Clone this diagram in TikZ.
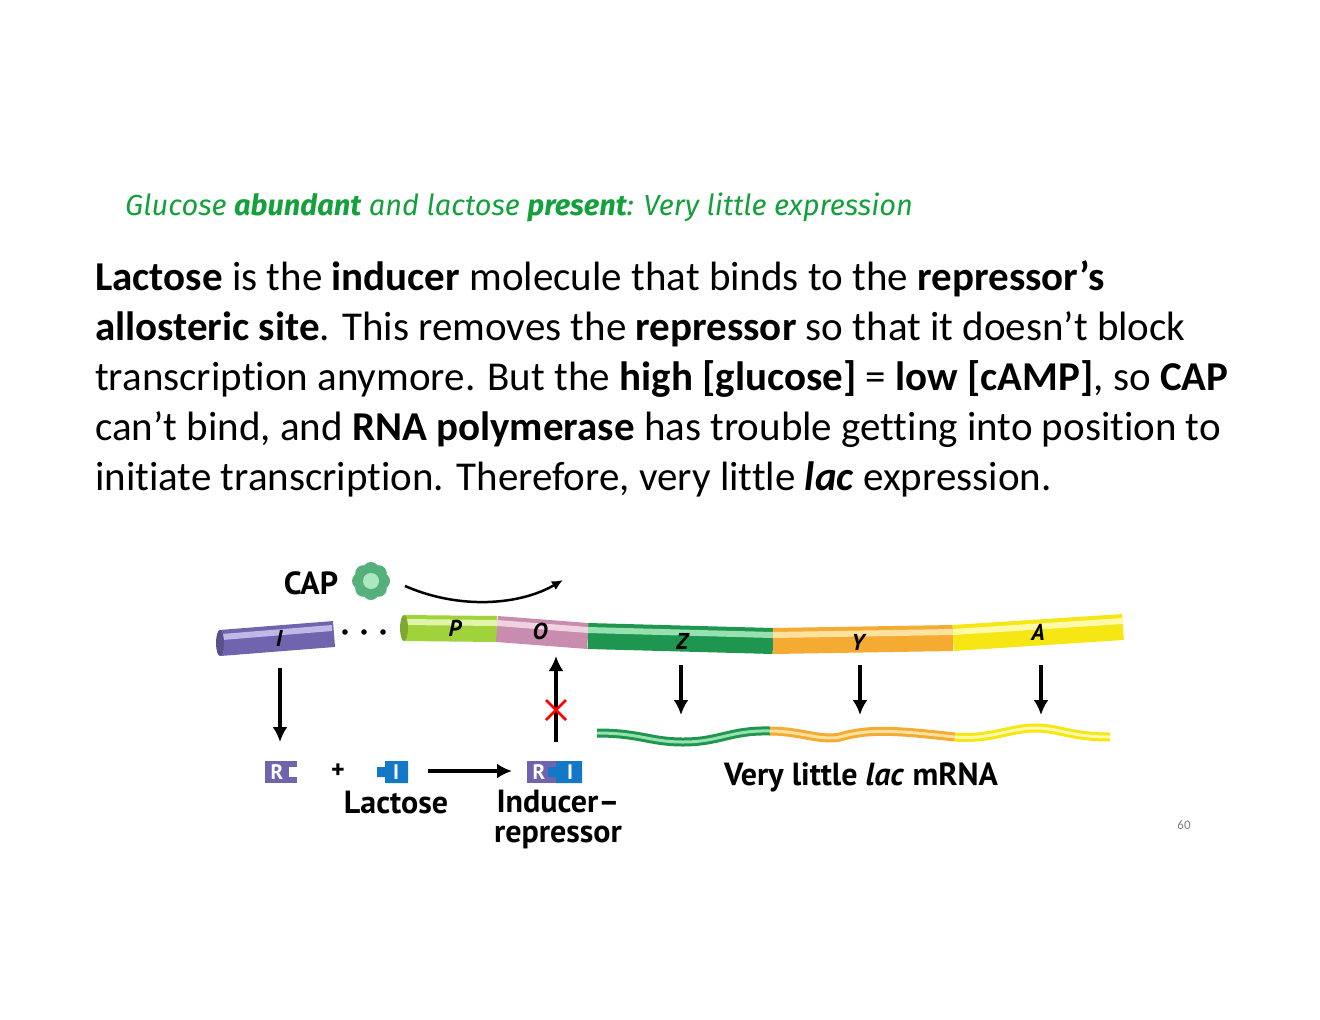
\documentclass[tikz,border=0pt]{standalone}
\usepackage{fontspec}
\usetikzlibrary{arrows.meta}
\setmainfont[Ligatures=NoCommon]{Carlito}
\newfontfamily\hand{Fira Sans}
\newfontfamily\lab{PT Sans}
\definecolor{ttlgreen}{RGB}{20,160,60}
\definecolor{cpurple}{RGB}{112,100,175}
\definecolor{cpurpleL}{RGB}{190,185,230}
\definecolor{clime}{RGB}{160,210,60}
\definecolor{climeL}{RGB}{225,245,170}
\definecolor{cpink}{RGB}{200,140,175}
\definecolor{cpinkL}{RGB}{240,210,225}
\definecolor{cgreen}{RGB}{30,150,80}
\definecolor{cgreenL}{RGB}{150,225,175}
\definecolor{corange}{RGB}{245,170,50}
\definecolor{corangeL}{RGB}{255,225,160}
\definecolor{cyellow}{RGB}{245,230,20}
\definecolor{cyellowL}{RGB}{255,250,170}
\definecolor{cblue}{RGB}{20,120,200}
\begin{document}
\begin{tikzpicture}[x=1pt,y=-1pt,
  body/.style={anchor=base west,inner sep=0,font=\fontsize{41}{46}\selectfont},
  lbl/.style={font=\lab\bfseries\fontsize{32}{34}\selectfont,inner sep=0},
  glbl/.style={font=\lab\bfseries\itshape\fontsize{23}{24}\selectfont,inner sep=0},
  wl/.style={font=\lab\bfseries\fontsize{21}{21}\selectfont,text=white,inner sep=0},
  arr/.style={line width=3.5pt,-{Latex[length=15pt,width=15pt]}},
  tube/.style={line width=26pt},
  hl/.style={line width=6pt}]
\useasboundingbox (0,0) rectangle (1320,1020);
\node[anchor=base west,inner sep=0,text=ttlgreen,font=\hand\itshape\fontsize{29}{30}\selectfont] (title) at (125,215) {Glucose \textbf{abundant} and lactose \textbf{present}: Very little expression};
\node[body] (l1) at (95,290) {\textbf{Lactose} is the \textbf{inducer} molecule that binds to the \textbf{repressor’s}};
\node[body] (l2) at (95,340) {\textbf{allosteric site}. This removes the \textbf{repressor} so that it doesn’t block};
\node[body] (l3) at (95,390) {transcription anymore. But the \textbf{high [glucose]} = \textbf{low [cAMP]}, so \textbf{CAP}};
\node[body] (l4) at (95,440) {can’t bind, and \textbf{RNA polymerase} has trouble getting into position to};
\node[body] (l5) at (95,490) {initiate transcription. Therefore, very little \textbf{\textit{lac}} expression.};
% DNA
\coordinate (i1) at (220,643); \coordinate (i2) at (334,634);
\draw[tube,cpurple] (i1)--(i2);
\draw[hl,cpurpleL] (222,637)--(332,628);
\fill[cpurple!80!black] (i1) ellipse (4 and 13);
\foreach \x in {345,364,383} \fill (\x,632) circle (2.8);
\coordinate (p0) at (404,628); \coordinate (p1) at (497,629); \coordinate (o1) at (588,636);
\coordinate (z1) at (773,641); \coordinate (y1) at (953,638); \coordinate (a1) at (1123,627);
\draw[tube,clime] (p0)--(p1); \draw[hl,climeL] (404,622)--(497,623);
\draw[tube,cpink] (p1)--(o1); \draw[hl,cpinkL] (497,623)--(588,630);
\draw[tube,cgreen] (o1)--(z1); \draw[hl,cgreenL] (588,630)--(773,635);
\draw[tube,corange] (z1)--(y1); \draw[hl,corangeL] (773,635)--(953,632);
\draw[tube,cyellow] (y1)--(a1); \draw[hl,cyellowL] (953,632)--(1123,621);
\fill[clime!80!black] (p0) ellipse (4 and 13);
\node[glbl] (gI) at (279,638) {I};
\node[glbl] (gP) at (455,628) {P};
\node[glbl] (gO) at (540,631) {O};
\node[glbl] (gZ) at (682,641) {Z};
\node[glbl] (gY) at (858,642) {Y};
\node[glbl] (gA) at (1038,632) {A};
% CAP
\node[lbl] (cap) at (311,583) {CAP};
\foreach \a in {0,45,...,315} \fill[cgreen!75] (371,581) ++(\a:11) circle (8);
\fill[cgreenL!80!white] (371,581) circle (8);
\draw[line width=2.5pt,-{Latex[length=11pt,width=10pt]}] (405,586) .. controls (460,610) and (520,605) .. (563,580);
% arrows
\coordinate (ia) at (280,668); \coordinate (ib) at (280,742);
\draw[arr] (ia)--(ib);
\coordinate (ua) at (556,742); \coordinate (ub) at (556,656);
\draw[arr] (ua)--(ub);
\draw[red,line width=2.5pt] (546,700)--(566,720) (546,720)--(566,700);
\foreach \x/\n in {681/z,860/y,1041/a} {\coordinate (\n s) at (\x,665); \coordinate (\n e) at (\x,715); \draw[arr] (\n s)--(\n e);}
% mRNA
\draw[line width=9pt,cgreen] (597,733) .. controls (640,733) and (650,742) .. (683,742) .. controls (720,742) and (730,730) .. (770,731);
\draw[line width=3pt,cgreenL] (597,733) .. controls (640,733) and (650,742) .. (683,742) .. controls (720,742) and (730,730) .. (770,731);
\draw[line width=9pt,corange] (770,731) .. controls (800,731) and (820,741) .. (840,737) .. controls (870,728) and (900,731) .. (955,737);
\draw[line width=3pt,corangeL] (770,731) .. controls (800,731) and (820,741) .. (840,737) .. controls (870,728) and (900,731) .. (955,737);
\draw[line width=9pt,cyellow] (955,737) .. controls (990,740) and (1010,728) .. (1035,728) .. controls (1060,728) and (1070,737) .. (1110,737);
\draw[line width=3pt,cyellowL] (955,737) .. controls (990,740) and (1010,728) .. (1035,728) .. controls (1060,728) and (1070,737) .. (1110,737);
% R, lactose, complex
\fill[cpurple] (265,761) rectangle (297,783);
\fill[white] (289,767) rectangle (297,777);
\node[wl] (R1) at (277,772) {R};
\node[lbl,font=\lab\bfseries\fontsize{26}{26}\selectfont] (plus) at (338,771) {+};
\fill[cblue] (385,761) rectangle (408,783) (377,767) rectangle (386,777);
\node[wl] (I1) at (396,772) {I};
\draw[arr] (428,771)--(512,771);
\fill[cpurple] (527,761) rectangle (556,783);
\fill[cblue] (556,761) rectangle (582,783) (548,767) rectangle (557,777);
\node[wl] (R2) at (539,772) {R};
\node[wl] (I2) at (570,772) {I};
\node[lbl] (lac) at (396,803) {Lactose};
\node[lbl] (ind) at (558,802) {Inducer–};
\node[lbl] (rep) at (558,837) {repressor};
\node[lbl] (mrna) at (861,777) {Very little \textit{lac} mRNA};
\node[text=gray,font=\fontsize{13}{13}\selectfont] (pg) at (1184,825) {60};
\end{tikzpicture}
\end{document}
